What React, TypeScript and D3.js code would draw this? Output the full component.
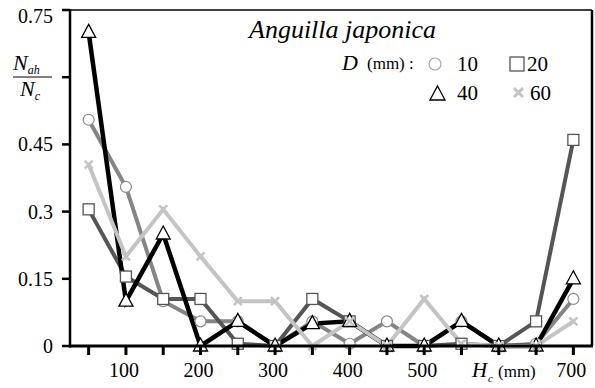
import React from 'react';
import * as d3 from 'd3';

// H_c (mm) positions
const heights = [50, 100, 150, 200, 250, 300, 350, 400, 450, 500, 550, 600, 650, 700];

// N_ah / N_c for each D (mm)
const d10 = [0.505, 0.355, 0.1, 0.055, 0.055, 0, 0.055, 0.005, 0.055, 0, 0.055, 0, 0.005, 0.105];
const d20 = [0.305, 0.155, 0.105, 0.105, 0.005, 0, 0.105, 0.055, 0, 0, 0.005, 0, 0.055, 0.46];
const d40 = [0.7, 0.1, 0.25, 0, 0.055, 0, 0.05, 0.055, 0, 0, 0.055, 0, 0, 0.15];
const d60 = [0.405, 0.2, 0.305, 0.2, 0.1, 0.1, 0, 0.055, 0, 0.105, 0.005, 0, 0, 0.055];

const yTicks = [0, 0.15, 0.3, 0.45, 0.6, 0.75];
const yLabels = ['0', '0.15', '0.3', '0.45', '', '0.75'];
const xLabelTicks = [100, 200, 300, 400, 500, 700];

const series = [
  { name: '10', values: d10, color: '#858585', marker: 'circle' },
  { name: '20', values: d20, color: '#555555', marker: 'square' },
  { name: '40', values: d40, color: '#000000', marker: 'triangle' },
  { name: '60', values: d60, color: '#c4c4c4', marker: 'cross' },
];

const FONT = 'Liberation Serif';

const margin = { top: 10, right: 3, bottom: 42, left: 70 };
const W = 595;
const H = 388;

const Marker = ({ type, x, y, color }: { type: string; x: number; y: number; color: string }) => {
  if (type === 'circle')
    return <circle cx={x} cy={y} r={5.5} fill="#fff" stroke="#8a8a8a" strokeWidth={1.2} />;
  if (type === 'square')
    return <rect x={x - 5.5} y={y - 5.5} width={11} height={11} fill="#fff" stroke="#555" strokeWidth={1.3} />;
  if (type === 'triangle')
    return (
      <path
        d={`M${x},${y - 8} L${x + 7},${y + 5} L${x - 7},${y + 5} Z`}
        fill="#fff"
        stroke="#000"
        strokeWidth={1.3}
      />
    );
  return (
    <path
      d={`M${x - 4},${y - 4} L${x + 4},${y + 4} M${x + 4},${y - 4} L${x - 4},${y + 4}`}
      stroke={color}
      strokeWidth={2.6}
      fill="none"
    />
  );
};

export default function App() {
  const x = d3.scaleLinear().domain([25, 725]).range([margin.left, W - margin.right]);
  const y = d3.scaleLinear().domain([0, 0.75]).range([H - margin.bottom, margin.top]);

  const line = d3
    .line<number>()
    .x((_, i) => x(heights[i]))
    .y((d) => y(d));

  const x0 = margin.left;
  const x1 = W - margin.right;
  const yBottom = y(0);
  const ts = { fontFamily: FONT };

  return (
    <svg width={W} height={H} style={{ position: 'absolute', left: 0, top: 0, background: '#fff' }}>
      {/* series lines */}
      {series.map((s) => (
        <path
          key={'l' + s.name}
          d={line(s.values) || ''}
          fill="none"
          stroke={s.color}
          strokeWidth={s.name === '40' ? 4.5 : 4}
          strokeLinejoin="miter"
        />
      ))}
      {/* markers */}
      {series.map((s) => (
        <g key={'m' + s.name}>
          {s.values.map((v, i) => (
            <Marker key={i} type={s.marker} x={x(heights[i])} y={y(v)} color={s.color} />
          ))}
        </g>
      ))}

      {/* frame */}
      <line x1={x0} x2={x1} y1={margin.top} y2={margin.top} stroke="#000" strokeWidth={1.5} />
      <line x1={x1} x2={x1} y1={margin.top} y2={yBottom} stroke="#000" strokeWidth={2.5} />
      <line x1={x0} x2={x0} y1={margin.top - 0.7} y2={yBottom + 1.5} stroke="#000" strokeWidth={2.5} />
      <line x1={x0 - 1} x2={x1 + 1} y1={yBottom} y2={yBottom} stroke="#000" strokeWidth={3} />

      {/* y axis ticks */}
      {yTicks.map((t, i) => (
        <g key={'yt' + t}>
          <line x1={x0 - 8} x2={x0} y1={y(t)} y2={y(t)} stroke="#000" strokeWidth={2.5} />
          <text style={ts} x={x0 - 17} y={y(t) + (t === 0.75 ? 13 : 7)} textAnchor="end" fontSize={20}>
            {yLabels[i]}
          </text>
        </g>
      ))}

      {/* y axis label */}
      <text style={ts} x={13} y={70} fontSize={22} fontStyle="italic">
        N<tspan fontSize={12} dy={4}>ah</tspan>
      </text>
      <line x1={13} x2={52} y1={77} y2={77} stroke="#000" strokeWidth={1} />
      <text style={ts} x={20} y={96} fontSize={22} fontStyle="italic">
        N<tspan fontSize={12} dy={4}>c</tspan>
      </text>

      {/* x axis ticks */}
      {heights.map((h) => (
        <line key={'xt' + h} x1={x(h)} x2={x(h)} y1={yBottom} y2={yBottom + 9} stroke="#000" strokeWidth={3} />
      ))}
      {xLabelTicks.map((h) => (
        <text style={ts} key={'xl' + h} x={x(h) - 2} y={377} textAnchor="middle" fontSize={20}>
          {h}
        </text>
      ))}
      <text style={ts} x={472} y={377} fontSize={21} fontStyle="italic">
        H
      </text>
      <text style={ts} x={488} y={382} fontSize={11} fontStyle="italic">
        c
      </text>
      <text style={ts} x={498} y={377} fontSize={17}>
        (mm)
      </text>

      {/* legend */}
      <text style={ts} x={249} y={38} fontSize={26} fontStyle="italic">
        Anguilla japonica
      </text>
      <text style={ts} x={342} y={70} fontSize={22} fontStyle="italic">
        D
      </text>
      <text style={ts} x={367} y={69} fontSize={17}>
        (mm) :
      </text>
      <circle cx={435} cy={64} r={6} fill="#fff" stroke="#aaa" strokeWidth={1.2} />
      <text style={ts} x={457} y={71} fontSize={21}>
        10
      </text>
      <rect x={510} y={57} width={14} height={14} fill="#fff" stroke="#555" strokeWidth={1.3} />
      <text style={ts} x={527} y={71} fontSize={21}>
        20
      </text>
      <path d="M437.5,86 L445,100 L430,100 Z" fill="#fff" stroke="#000" strokeWidth={1.3} />
      <text style={ts} x={457} y={100} fontSize={21}>
        40
      </text>
      <path d="M514,88 L523,97 M523,88 L514,97" stroke="#c4c4c4" strokeWidth={3} />
      <text style={ts} x={530} y={100} fontSize={21}>
        60
      </text>
    </svg>
  );
}
